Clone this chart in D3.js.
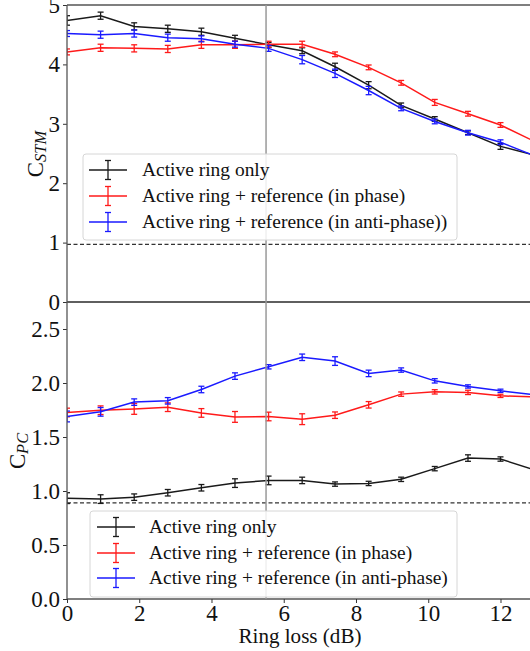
<!DOCTYPE html>
<html>
<head>
<meta charset="utf-8">
<script src="https://cdn.jsdelivr.net/npm/d3@7/dist/d3.min.js"></script>
<style>
  body { margin: 0; background: #fff; }
  svg { display: block; }
</style>
</head>
<body>
<svg id="chart" width="530" height="651"></svg>
<script>
// ---------- DATA ----------
const ringLoss = [0, 0.93, 1.86, 2.79, 3.72, 4.65, 5.58, 6.51, 7.42, 8.35, 9.25, 10.18, 11.1, 12.0, 12.95];

const seriesNames = [
  "Active ring only",
  "Active ring + reference (in phase)",
  "Active ring + reference (in anti-phase))"
];
const seriesNamesPC = [
  "Active ring only",
  "Active ring + reference (in phase)",
  "Active ring + reference (in anti-phase)"
];
const seriesColors = ["#1a1a1a", "#ff1a1a", "#1a1aff"];

// C_STM
const stmActive    = [4.74, 4.82, 4.64, 4.60, 4.55, 4.44, 4.33, 4.23, 3.96, 3.65, 3.31, 3.08, 2.85, 2.62, 2.47];
const stmActiveErr = [0.08, 0.06, 0.06, 0.06, 0.06, 0.05, 0.04, 0.05, 0.06, 0.06, 0.04, 0.04, 0.03, 0.05, 0.04];
const stmInPhase    = [4.21, 4.28, 4.27, 4.26, 4.33, 4.33, 4.34, 4.34, 4.17, 3.95, 3.69, 3.36, 3.17, 2.98, 2.70];
const stmInPhaseErr = [0.05, 0.06, 0.06, 0.06, 0.06, 0.06, 0.05, 0.05, 0.04, 0.04, 0.04, 0.05, 0.04, 0.04, 0.04];
const stmAnti    = [4.52, 4.50, 4.52, 4.45, 4.43, 4.34, 4.27, 4.08, 3.85, 3.56, 3.26, 3.04, 2.85, 2.69, 2.46];
const stmAntiErr = [0.05, 0.06, 0.06, 0.06, 0.05, 0.05, 0.05, 0.07, 0.07, 0.07, 0.04, 0.04, 0.04, 0.04, 0.04];

// C_PC
const pcActive    = [0.934, 0.925, 0.943, 0.984, 1.03, 1.073, 1.098, 1.098, 1.064, 1.07, 1.108, 1.207, 1.305, 1.296, 1.195];
const pcActiveErr = [0.05, 0.04, 0.03, 0.03, 0.03, 0.04, 0.04, 0.03, 0.02, 0.02, 0.02, 0.02, 0.03, 0.02, 0.02];
const pcInPhase    = [1.727, 1.748, 1.76, 1.776, 1.723, 1.686, 1.69, 1.665, 1.702, 1.798, 1.897, 1.918, 1.913, 1.881, 1.87];
const pcInPhaseErr = [0.04, 0.04, 0.05, 0.04, 0.04, 0.05, 0.04, 0.05, 0.03, 0.03, 0.02, 0.02, 0.02, 0.015, 0.02];
const pcAnti    = [1.69, 1.733, 1.823, 1.835, 1.94, 2.064, 2.15, 2.238, 2.203, 2.089, 2.12, 2.02, 1.968, 1.928, 1.89];
const pcAntiErr = [0.05, 0.04, 0.03, 0.03, 0.03, 0.03, 0.02, 0.03, 0.04, 0.03, 0.02, 0.02, 0.015, 0.015, 0.015];

const stmRef = 0.97;   // dashed reference
const pcRef = 0.89;
const markerLoss = 5.51; // vertical marker

const xTicks = [0, 2, 4, 6, 8, 10, 12];
const stmTicks = [0, 1, 2, 3, 4, 5];
const pcTicks = [0, 0.5, 1.0, 1.5, 2.0, 2.5];

// ---------- FONT SIZING ----------
const FAMILY = '"Liberation Serif", "DejaVu Serif", "Times New Roman", serif';
const cv = document.createElement("canvas").getContext("2d");
function fitSize(txt, target, style) {
  cv.font = (style || "") + " 100px " + FAMILY;
  const w = cv.measureText(txt).width;
  return 100 * target / w;
}
const legendSize = fitSize("Active ring + reference (in anti-phase)", 299);
const tickSize = fitSize("10", 23);
const xlabSize = fitSize("Ring loss (dB)", 123);

// ---------- LAYOUT ----------
const svg = d3.select("#chart").style("font-family", FAMILY);
const L = 67, R = 533;
const topY0 = 5, topY1 = 302, botY0 = 302, botY1 = 599;

const x = d3.scaleLinear().domain([0, 12.9]).range([L, R]);
const yS = d3.scaleLinear().domain([0, 5]).range([topY1, topY0]);
const yP = d3.scaleLinear().domain([0, 2.75]).range([botY1, botY0]);

const defs = svg.append("defs");
defs.append("clipPath").attr("id", "clipTop").append("rect")
  .attr("x", L).attr("y", topY0).attr("width", R - L).attr("height", topY1 - topY0);
defs.append("clipPath").attr("id", "clipBot").append("rect")
  .attr("x", L).attr("y", botY0).attr("width", R - L).attr("height", botY1 - botY0);

function panel(yScale, clipId, series, ref, ticks, fmt, y0, y1) {
  const g = svg.append("g");
  const plot = g.append("g").attr("clip-path", `url(#${clipId})`);
  plot.append("line")
    .attr("x1", L).attr("x2", R)
    .attr("y1", yScale(ref)).attr("y2", yScale(ref))
    .attr("stroke", "#333").attr("stroke-width", 1.3).attr("stroke-dasharray", "4,2.5");

  const line = d3.line().x((d, i) => x(ringLoss[i])).y(d => yScale(d));
  series.forEach(s => {
    plot.append("path").datum(s.values)
      .attr("fill", "none").attr("stroke", s.color).attr("stroke-width", 1.5).attr("d", line);
    const eb = plot.append("g").attr("stroke", s.color).attr("stroke-width", 1.3);
    s.values.forEach((v, i) => {
      const cx = x(ringLoss[i]);
      const ya = yScale(v - s.err[i]), yb = yScale(v + s.err[i]);
      eb.append("line").attr("x1", cx).attr("x2", cx).attr("y1", ya).attr("y2", yb);
      eb.append("line").attr("x1", cx - 3).attr("x2", cx + 3).attr("y1", ya).attr("y2", ya);
      eb.append("line").attr("x1", cx - 3).attr("x2", cx + 3).attr("y1", yb).attr("y2", yb);
    });
  });

  const ya = g.append("g").attr("transform", `translate(${L},0)`)
    .call(d3.axisLeft(yScale).tickValues(ticks).tickFormat(fmt).tickSize(4).tickPadding(3));
  ya.attr("font-family", null).attr("font-size", null);
  ya.select(".domain").remove();
  ya.selectAll(".tick line").attr("stroke", "#333");
  ya.selectAll("text").attr("font-size", tickSize).attr("fill", "#111");

  g.append("line").attr("x1", L).attr("x2", R).attr("y1", y0).attr("y2", y0).attr("stroke", "#555").attr("stroke-width", 1.3);
  g.append("line").attr("x1", L).attr("x2", R).attr("y1", y1).attr("y2", y1).attr("stroke", "#555").attr("stroke-width", 1.3);
  g.append("line").attr("x1", L).attr("x2", L).attr("y1", y0).attr("y2", y1).attr("stroke", "#555").attr("stroke-width", 1.3);
  return g;
}

panel(yS, "clipTop", [
  { values: stmActive, err: stmActiveErr, color: seriesColors[0] },
  { values: stmInPhase, err: stmInPhaseErr, color: seriesColors[1] },
  { values: stmAnti, err: stmAntiErr, color: seriesColors[2] }
], stmRef, stmTicks, d3.format("d"), topY0, topY1);

panel(yP, "clipBot", [
  { values: pcActive, err: pcActiveErr, color: seriesColors[0] },
  { values: pcInPhase, err: pcInPhaseErr, color: seriesColors[1] },
  { values: pcAnti, err: pcAntiErr, color: seriesColors[2] }
], pcRef, pcTicks, d3.format(".1f"), botY0, botY1);

const xa = svg.append("g").attr("transform", `translate(0,${botY1})`)
  .call(d3.axisBottom(x).tickValues(xTicks).tickFormat(d3.format("d")).tickSize(4).tickPadding(2));
xa.attr("font-family", null).attr("font-size", null);
xa.select(".domain").remove();
xa.selectAll(".tick line").attr("stroke", "#333");
xa.selectAll("text").attr("font-size", tickSize).attr("fill", "#111");

svg.append("line")
  .attr("x1", x(markerLoss)).attr("x2", x(markerLoss))
  .attr("y1", topY0).attr("y2", botY1)
  .attr("stroke", "#999").attr("stroke-width", 1.5);

function legend(names, lx, ly, w, h, rowY, lineX0, lineX1, textX) {
  const g = svg.append("g");
  g.append("rect").attr("x", lx).attr("y", ly).attr("width", w).attr("height", h)
    .attr("rx", 3).attr("fill", "white").attr("fill-opacity", 0.85)
    .attr("stroke", "#d6d6d6").attr("stroke-width", 1);
  names.forEach((n, i) => {
    const yy = rowY[i], c = seriesColors[i], mx = (lineX0 + lineX1) / 2;
    g.append("line").attr("x1", lineX0).attr("x2", lineX1).attr("y1", yy).attr("y2", yy)
      .attr("stroke", c).attr("stroke-width", 1.5);
    g.append("line").attr("x1", mx).attr("x2", mx).attr("y1", yy - 9.5).attr("y2", yy + 9.5)
      .attr("stroke", c).attr("stroke-width", 1.3);
    g.append("line").attr("x1", mx - 3).attr("x2", mx + 3).attr("y1", yy - 9.5).attr("y2", yy - 9.5)
      .attr("stroke", c).attr("stroke-width", 1.3);
    g.append("line").attr("x1", mx - 3).attr("x2", mx + 3).attr("y1", yy + 9.5).attr("y2", yy + 9.5)
      .attr("stroke", c).attr("stroke-width", 1.3);
    g.append("text").attr("x", textX).attr("y", yy).attr("dy", "0.33em")
      .attr("font-size", legendSize).attr("fill", "#111").text(n);
  });
}
legend(seriesNames, 83, 154, 374, 86, [170, 196, 222], 89, 127, 142);
legend(seriesNamesPC, 90, 511, 367, 86, [527, 553, 578], 97, 135, 149);

function ylab(sub, cx, cy) {
  const t = svg.append("text").attr("transform", `translate(${cx},${cy}) rotate(-90)`)
    .attr("text-anchor", "middle").attr("font-size", xlabSize * 1.08).attr("fill", "#111");
  t.append("tspan").text("C");
  t.append("tspan").attr("font-size", xlabSize * 0.78).attr("font-style", "italic").attr("dy", 3).text(sub);
}
ylab("STM", 43, 154);
ylab("PC", 25, 451);

svg.append("text").attr("x", 300).attr("y", 643).attr("text-anchor", "middle")
  .attr("font-size", xlabSize).attr("fill", "#111").text("Ring loss (dB)");
</script>
</body>
</html>
